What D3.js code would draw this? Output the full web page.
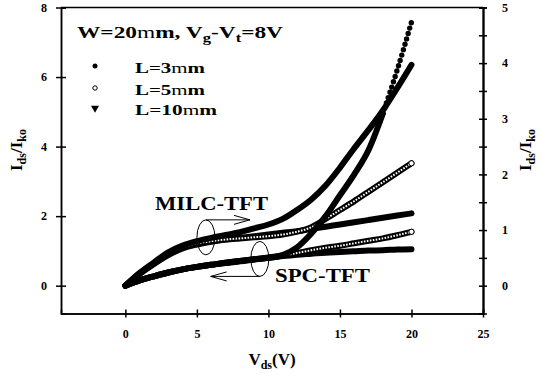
<!DOCTYPE html>
<html>
<head>
<meta charset="utf-8">
<script src="https://cdn.jsdelivr.net/npm/d3@7"></script>
<style>
  body { margin: 0; background: #fff; }
  svg text { font-family: "Liberation Serif", "Times New Roman", serif; font-weight: bold; fill: #000; }
</style>
</head>
<body>
<svg id="chart" width="542" height="374"></svg>
<script>
// Vds sweep (V)
const vds = [0, 1, 2, 3, 4, 5, 6, 7, 8, 9, 10, 11, 12, 13, 14, 15, 16, 17, 18, 19, 20];

// MILC-TFT curves, read on the right axis
const milc3  = [0, 0.23, 0.42, 0.6, 0.72, 0.8, 0.86, 0.91, 0.96, 1.03, 1.1, 1.2, 1.36, 1.55, 1.8, 2.12, 2.47, 2.8, 3.15, 3.55, 3.97];
const milc5  = [0, 0.22, 0.4, 0.57, 0.69, 0.76, 0.8, 0.83, 0.85, 0.87, 0.89, 0.92, 0.97, 1.05, 1.2, 1.36, 1.52, 1.69, 1.86, 2.03, 2.2];
const milc10 = [0, 0.21, 0.39, 0.55, 0.67, 0.74, 0.79, 0.83, 0.86, 0.89, 0.92, 0.95, 0.98, 1.02, 1.06, 1.1, 1.14, 1.18, 1.22, 1.26, 1.3];

// SPC-TFT curves, read on the left axis
const spc3  = [0, 0.15, 0.27, 0.38, 0.47, 0.54, 0.6, 0.66, 0.71, 0.76, 0.8, 0.88, 1.1, 1.5, 2.0, 2.6, 3.2, 3.9, 4.95, 6.2, 7.58];
const spc5  = [0, 0.15, 0.27, 0.38, 0.47, 0.54, 0.6, 0.66, 0.71, 0.76, 0.81, 0.87, 0.94, 1.02, 1.09, 1.15, 1.22, 1.29, 1.36, 1.45, 1.55];
const spc10 = [0, 0.15, 0.27, 0.38, 0.47, 0.54, 0.6, 0.65, 0.7, 0.75, 0.8, 0.85, 0.89, 0.92, 0.95, 0.97, 0.99, 1.01, 1.02, 1.04, 1.05];

// ticks
const xTicks = [0, 5, 10, 15, 20, 25];
const yLeftTicks = [0, 2, 4, 6, 8];
const yRightTicks = [0, 1, 2, 3, 4, 5];
const yRightMinor = [0.5, 1.5, 2.5, 3.5, 4.5];

// group annotations (data units: x in V, y on left axis)
const milcNote = { x: 5.63, y: 1.39, arrowTo: 8.71 };
const spcNote = { x: 9.4, y: 0.77, arrowTo: 5.96 };

const svg = d3.select("#chart");
const pLeft = 61, pRight = 483, pTop = 7.5, pBottom = 313.5;
const serif = "'Liberation Serif', 'Times New Roman', serif";

const x = d3.scaleLinear().domain([-4.5, 25]).range([pLeft, pRight]);
const yL = d3.scaleLinear().domain([-0.8, 8]).range([pBottom, pTop]);
const yR = d3.scaleLinear().domain([-0.5, 5]).range([pBottom, pTop]);
const fmt = d3.format("d");

// frame top line
svg.append("line")
  .attr("x1", pLeft).attr("x2", pRight).attr("y1", pTop).attr("y2", pTop)
  .attr("stroke", "#000").attr("stroke-width", 1.5);

// bottom axis
const gx = svg.append("g").attr("transform", "translate(0," + pBottom + ")")
  .call(d3.axisBottom(x).tickValues(xTicks).tickFormat(fmt).tickSizeInner(4).tickSizeOuter(0));
gx.selectAll("text").attr("dy", null).attr("y", 24.5);
gx.append("g").call(d3.axisTop(x).tickValues(xTicks).tickSize(4).tickFormat(""));

// left axis
const gl = svg.append("g").attr("transform", "translate(" + pLeft + ",0)")
  .call(d3.axisLeft(yL).tickValues(yLeftTicks).tickFormat(fmt).tickSizeInner(5).tickSizeOuter(0));
gl.selectAll("text").attr("x", -14);
gl.append("g").call(d3.axisRight(yL).tickValues(yLeftTicks).tickSize(5).tickFormat(""));

// right axis
const gr = svg.append("g").attr("transform", "translate(" + pRight + ",0)")
  .call(d3.axisRight(yR).tickValues(yRightTicks).tickFormat(fmt).tickSizeInner(4).tickSizeOuter(0));
gr.selectAll("text").attr("x", 19);
gr.append("g").call(d3.axisLeft(yR).tickValues(yRightTicks).tickSize(4).tickFormat(""));
gr.append("g").call(d3.axisRight(yR).tickValues(yRightMinor).tickSize(4).tickFormat(""));
gr.append("g").call(d3.axisLeft(yR).tickValues(yRightMinor).tickSize(4).tickFormat(""));

[gx, gl, gr].forEach(g => g.attr("font-family", serif).attr("font-size", 12).attr("font-weight", "bold"));
svg.selectAll(".domain").attr("stroke-width", 1.5);
svg.selectAll(".tick line").attr("stroke-width", 1.5);

// curves
const lineL = d3.line().x((d, i) => x(vds[i])).y(d => yL(d)).curve(d3.curveMonotoneX);
const lineR = d3.line().x((d, i) => x(vds[i])).y(d => yR(d)).curve(d3.curveMonotoneX);
const plot = svg.append("g");

function solid(path) {
  plot.append("path").attr("d", path).attr("fill", "none")
    .attr("stroke", "#000").attr("stroke-width", 6).attr("stroke-linecap", "round");
}
function hollow(path) {
  plot.append("path").attr("d", path).attr("fill", "none")
    .attr("stroke", "#000").attr("stroke-width", 6).attr("stroke-linecap", "round");
  plot.append("path").attr("d", path).attr("fill", "none")
    .attr("stroke", "#fff").attr("stroke-width", 2).attr("stroke-dasharray", "1.6,1.4");
}

solid(lineL(spc10));
hollow(lineL(spc5));
solid(lineR(milc10));
hollow(lineR(milc5));
solid(lineR(milc3));

// SPC L=3: solid where points crowd, separate dots where the curve is steep
const cut = 18;
const spc3Low = spc3.map((d, i) => vds[i] <= cut ? d : null);
solid(d3.line().defined(d => d !== null).x((d, i) => x(vds[i])).y(d => yL(d)).curve(d3.curveMonotoneX)(spc3Low));
const spc3High = spc3.map((d, i) => vds[i] >= cut ? d : null);
plot.append("path")
  .attr("d", d3.line().defined(d => d !== null).x((d, i) => x(vds[i])).y(d => yL(d)).curve(d3.curveMonotoneX)(spc3High))
  .attr("fill", "none").attr("stroke", "#000").attr("stroke-width", 5.4)
  .attr("stroke-linecap", "round").attr("stroke-dasharray", "0,5.6");

// end markers of the open-circle series
plot.append("circle").attr("cx", x(vds[20])).attr("cy", yR(milc5[20])).attr("r", 2.6)
  .attr("fill", "#fff").attr("stroke", "#000").attr("stroke-width", 1);
plot.append("circle").attr("cx", x(vds[20])).attr("cy", yL(spc5[20])).attr("r", 2.6)
  .attr("fill", "#fff").attr("stroke", "#000").attr("stroke-width", 1);

// annotations
function note(n, dir, labelText, tx, ty, tl) {
  const cx = x(n.x), cy = yL(n.y), ry = 17.5, rx = 9;
  svg.append("ellipse").attr("cx", cx).attr("cy", cy).attr("rx", rx).attr("ry", ry)
    .attr("fill", "none").attr("stroke", "#000").attr("stroke-width", 1);
  const ay = dir > 0 ? cy - ry : cy + ry;
  const ax = x(n.arrowTo);
  svg.append("line").attr("x1", cx).attr("x2", ax).attr("y1", ay).attr("y2", ay)
    .attr("stroke", "#000").attr("stroke-width", 1);
  svg.append("path")
    .attr("d", "M" + (ax - dir * 16) + "," + (ay - 4.5) + "L" + ax + "," + ay + "L" + (ax - dir * 16) + "," + (ay + 4.5))
    .attr("fill", "none").attr("stroke", "#000").attr("stroke-width", 1);
  svg.append("text").attr("x", tx).attr("y", ty).attr("textLength", tl)
    .attr("lengthAdjust", "spacingAndGlyphs").style("font-size", "19px").text(labelText);
}
note(milcNote, 1, "MILC-TFT", 155, 210, 113);
note(spcNote, -1, "SPC-TFT", 275, 282, 95);

// legend title
const title = svg.append("text").attr("x", 77).attr("y", 38).attr("textLength", 206)
  .attr("lengthAdjust", "spacingAndGlyphs").style("font-size", "17px");
title.append("tspan").text("W=20");
title.append("tspan").style("font-weight", "normal").text("m");
title.append("tspan").text("m, V");
title.append("tspan").attr("dy", 4).style("font-size", "12px").text("g");
title.append("tspan").attr("dy", -4).text("-V");
title.append("tspan").attr("dy", 4).style("font-size", "12px").text("t");
title.append("tspan").attr("dy", -4).text("=8V");

// legend entries
const legendLabels = ["L=3", "L=5", "L=10"];
const legendY = [66, 88, 108];
const legendLen = [70, 70, 82];
legendLabels.forEach((lab, i) => {
  const t = svg.append("text").attr("x", 135).attr("y", legendY[i] + 7)
    .attr("textLength", legendLen[i]).attr("lengthAdjust", "spacingAndGlyphs")
    .style("font-size", "15px");
  t.append("tspan").text(lab);
  t.append("tspan").style("font-weight", "normal").text("m");
  t.append("tspan").text("m");
});
svg.append("circle").attr("cx", 95).attr("cy", legendY[0]).attr("r", 2.5).attr("fill", "#000");
svg.append("circle").attr("cx", 95).attr("cy", legendY[1]).attr("r", 2.2)
  .attr("fill", "#fff").attr("stroke", "#000").attr("stroke-width", 1);
svg.append("path").attr("d", d3.symbol(d3.symbolTriangle, 28)())
  .attr("transform", "translate(95," + legendY[2] + ") rotate(180)").attr("fill", "#000");

// axis titles
function yTitle(tx) {
  const t = svg.append("text").attr("transform", "translate(" + tx + ",150) rotate(-90)")
    .attr("text-anchor", "middle").style("font-size", "17px");
  t.append("tspan").text("I");
  t.append("tspan").attr("dy", 4).style("font-size", "12px").text("ds");
  t.append("tspan").attr("dy", -4).text("/I");
  t.append("tspan").attr("dy", 4).style("font-size", "12px").text("ko");
}
yTitle(22);
yTitle(531);

const xt = svg.append("text").attr("x", 272).attr("y", 365).attr("text-anchor", "middle")
  .style("font-size", "17px");
xt.append("tspan").text("V");
xt.append("tspan").attr("dy", 4).style("font-size", "12px").text("ds");
xt.append("tspan").attr("dy", -4).text("(V)");
</script>
</body>
</html>
